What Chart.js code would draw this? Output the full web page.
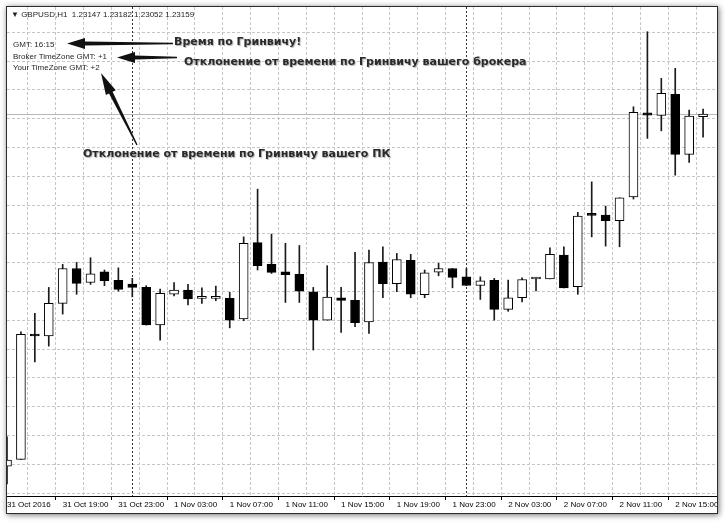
<!DOCTYPE html>
<html>
<head>
<meta charset="utf-8">
<script src="https://cdn.jsdelivr.net/npm/chart.js@4.4.0/dist/chart.umd.min.js"></script>
<style>
  body { margin: 0; background: #fff; width: 725px; height: 524px; position: relative; overflow: hidden; font-family: "Liberation Sans", Arial, sans-serif; }
  #frame { position: absolute; left: 6px; top: 6px; width: 710px; height: 506px; border: 1px solid #2b2b2b; box-shadow: 1px 1px 6px rgba(0, 0, 0, 0.55); background: #fff; }
  #chart { position: absolute; left: 0; top: 0; }
  .info { position: absolute; font-size: 8px; line-height: 10px; color: #1e1e2a; white-space: nowrap; }
  .note { position: absolute; font-family: "DejaVu Sans", sans-serif; font-weight: bold; font-size: 11px; line-height: 14px; color: #2a2a2a; text-shadow: 1px 1px 1px #b0b0b0; white-space: nowrap; }
  #arrows { position: absolute; left: 0; top: 0; }
</style>
</head>
<body>
<div id="frame"><canvas id="chart" width="710" height="506"></canvas></div>

<div class="info" id="header" style="left:11px; top:10px;"></div>
<div class="info" style="left:13px; top:40px;">GMT: 16:15</div>
<div class="info" style="left:13px; top:52px;">Broker TimeZone GMT: +1</div>
<div class="info" style="left:13px; top:63px;">Your TimeZone GMT: +2</div>

<div class="note" style="left:174px; top:35px;">Время по Гринвичу!</div>
<div class="note" style="left:184px; top:55px;">Отклонение от времени по Гринвичу вашего брокера</div>
<div class="note" style="left:83px; top:147px;">Отклонение от времени по Гринвичу вашего ПК</div>

<svg id="arrows" width="725" height="524"></svg>

<script>
// GBPUSD H1 bars, 31 Oct 15:00 - 2 Nov 17:00
var categories = [
  '31 Oct 15:00', '31 Oct 16:00', '31 Oct 17:00', '31 Oct 18:00', '31 Oct 19:00', '31 Oct 20:00',
  '31 Oct 21:00', '31 Oct 22:00', '31 Oct 23:00',
  '1 Nov 00:00', '1 Nov 01:00', '1 Nov 02:00', '1 Nov 03:00', '1 Nov 04:00', '1 Nov 05:00',
  '1 Nov 06:00', '1 Nov 07:00', '1 Nov 08:00', '1 Nov 09:00', '1 Nov 10:00', '1 Nov 11:00',
  '1 Nov 12:00', '1 Nov 13:00', '1 Nov 14:00', '1 Nov 15:00', '1 Nov 16:00', '1 Nov 17:00',
  '1 Nov 18:00', '1 Nov 19:00', '1 Nov 20:00', '1 Nov 21:00', '1 Nov 22:00', '1 Nov 23:00',
  '2 Nov 00:00', '2 Nov 01:00', '2 Nov 02:00', '2 Nov 03:00', '2 Nov 04:00', '2 Nov 05:00',
  '2 Nov 06:00', '2 Nov 07:00', '2 Nov 08:00', '2 Nov 09:00', '2 Nov 10:00', '2 Nov 11:00',
  '2 Nov 12:00', '2 Nov 13:00', '2 Nov 14:00', '2 Nov 15:00', '2 Nov 16:00', '2 Nov 17:00'
];

var opens = [
  1.21522, 1.21553, 1.22135, 1.22127, 1.22279, 1.22441, 1.22376, 1.22426, 1.22386, 1.22369,
  1.22353, 1.22178, 1.22321, 1.22341, 1.22302, 1.22302, 1.22302, 1.22206, 1.22561, 1.22460,
  1.22426, 1.22414, 1.22333, 1.22201, 1.22305, 1.22293, 1.22193, 1.22471, 1.22370, 1.22479,
  1.22319, 1.22424, 1.22441, 1.22402, 1.22362, 1.22386, 1.22251, 1.22305, 1.22392, 1.22392,
  1.22503, 1.22356, 1.22695, 1.22689, 1.22663, 1.22774, 1.23165, 1.23153, 1.23251, 1.22972,
  1.23147
];
var highs = [
  1.21658, 1.22147, 1.22232, 1.22353, 1.22460, 1.22469, 1.22491, 1.22434, 1.22444, 1.22395,
  1.22361, 1.22345, 1.22376, 1.22367, 1.22351, 1.22359, 1.22330, 1.22588, 1.22810, 1.22601,
  1.22558, 1.22548, 1.22353, 1.22454, 1.22353, 1.22516, 1.22527, 1.22542, 1.22511, 1.22507,
  1.22434, 1.22465, 1.22441, 1.22441, 1.22402, 1.22395, 1.22387, 1.22398, 1.22400, 1.22537,
  1.22542, 1.22702, 1.22844, 1.22731, 1.22770, 1.23193, 1.23542, 1.23325, 1.23372, 1.23178,
  1.23182
];
var lows = [
  1.21439, 1.21553, 1.22007, 1.22080, 1.22229, 1.22321, 1.22367, 1.22361, 1.22336, 1.22309,
  1.22178, 1.22108, 1.22314, 1.22271, 1.22279, 1.22291, 1.22165, 1.22198, 1.22434, 1.22418,
  1.22283, 1.22283, 1.22062, 1.22201, 1.22144, 1.22170, 1.22139, 1.22305, 1.22333, 1.22305,
  1.22305, 1.22407, 1.22351, 1.22362, 1.22297, 1.22201, 1.22242, 1.22286, 1.22337, 1.22392,
  1.22351, 1.22321, 1.22588, 1.22545, 1.22542, 1.22764, 1.23046, 1.23081, 1.22875, 1.22934,
  1.23052
];
var closes = [
  1.21550, 1.22135, 1.22127, 1.22279, 1.22441, 1.22372, 1.22416, 1.22384, 1.22344, 1.22353,
  1.22178, 1.22325, 1.22341, 1.22299, 1.22302, 1.22302, 1.22201, 1.22558, 1.22454, 1.22423,
  1.22412, 1.22335, 1.22201, 1.22308, 1.22293, 1.22189, 1.22469, 1.22370, 1.22483, 1.22322,
  1.22421, 1.22441, 1.22400, 1.22362, 1.22384, 1.22251, 1.22305, 1.22390, 1.22392, 1.22507,
  1.22351, 1.22685, 1.22688, 1.22663, 1.22770, 1.23167, 1.23154, 1.23255, 1.22972, 1.23150,
  1.23159
];

// labels under every 4th bar
var tickLabels = [
  '31 Oct 2016', '31 Oct 19:00', '31 Oct 23:00', '1 Nov 03:00', '1 Nov 07:00', '1 Nov 11:00',
  '1 Nov 15:00', '1 Nov 19:00', '1 Nov 23:00', '2 Nov 03:00', '2 Nov 07:00', '2 Nov 11:00',
  '2 Nov 15:00'
];

// price window of the terminal and its grid
var priceMin = 1.21383;
var priceMax = 1.23657;
var gridTop = 1.23539;
var gridStep = 0.0013392;

var last = closes.length - 1;
var header = document.getElementById('header');
header.innerHTML = '&#9660; GBPUSD,H1&nbsp;&nbsp;' + opens[last].toFixed(5) + ' ' + highs[last].toFixed(5) + ' ' +
  lows[last].toFixed(5) + ' ' + closes[last].toFixed(5);

//one empty slot on the right, like the terminal's chart shift
var xLabels = categories.concat(['']);

var bodies = opens.map(function (o, i) { return [o, closes[i]]; });
var wicks = lows.map(function (l, i) { return [l, highs[i]]; });

//Bid line and day separators
var extraLines = {
  id: 'extraLines',
  beforeDatasetsDraw: function (chart) {
    var ctx = chart.ctx;
    var area = chart.chartArea;
    var xs = chart.scales.x;
    var ys = chart.scales.y;
    ctx.save();
    var py = Math.round(ys.getPixelForValue(closes[last])) + 0.5;
    ctx.strokeStyle = '#b8b8b8';
    ctx.lineWidth = 1;
    ctx.beginPath();
    ctx.moveTo(area.left, py);
    ctx.lineTo(area.right, py);
    ctx.stroke();

    ctx.strokeStyle = '#333';
    ctx.setLineDash([2, 2]);
    categories.forEach(function (c, i) {
      if (c.indexOf('00:00') > -1) {
        var px = Math.round(xs.getPixelForValue(i)) + 0.5;
        ctx.beginPath();
        ctx.moveTo(px, area.top);
        ctx.lineTo(px, area.bottom);
        ctx.stroke();
      }
    });
    ctx.restore();
  }
};

new Chart(document.getElementById('chart'), {
  type: 'bar',
  data: {
    labels: xLabels,
    datasets: [{
      label: 'body',
      data: bodies,
      order: 0,
      grouped: false,
      barThickness: 9,
      minBarLength: 2,
      borderWidth: 1,
      borderColor: '#000',
      borderSkipped: false,
      backgroundColor: function (c) {
        var i = c.dataIndex;
        return closes[i] >= opens[i] ? '#fff' : '#000';
      }
    }, {
      label: 'wick',
      data: wicks,
      order: 1,
      grouped: false,
      barThickness: 1,
      borderWidth: 0,
      backgroundColor: '#1a1a1a'
    }]
  },
  options: {
    responsive: false,
    animation: false,
    layout: { padding: 0 },
    plugins: { legend: { display: false }, tooltip: { enabled: false } },
    scales: {
      x: {
        offset: false,
        grid: {
          color: function (c) { return c.index % 2 === 0 ? '#c6c6c6' : 'rgba(0,0,0,0)'; },
          tickColor: function (c) { return c.index % 4 === 0 ? '#000' : 'rgba(0,0,0,0)'; },
          tickLength: 4,
          lineWidth: 1
        },
        border: { display: true, color: '#000', width: 1, dash: [3, 2] },
        ticks: {
          autoSkip: false,
          maxRotation: 0,
          minRotation: 0,
          align: 'start',
          padding: 0,
          color: '#000',
          font: { family: 'Liberation Sans', size: 8 },
          callback: function (value, index) {
            return index % 4 === 0 ? tickLabels[index / 4] : '';
          }
        },
        afterFit: function (scale) {
          scale.height = 17;
          scale.paddingLeft = 0;
          scale.paddingRight = 0;
        }
      },
      y: {
        min: priceMin,
        max: priceMax,
        grid: { color: '#c6c6c6', drawTicks: false, lineWidth: 1 },
        border: { display: false, dash: [3, 2] },
        ticks: { display: false },
        afterBuildTicks: function (scale) {
          var t = [];
          for (var v = gridTop; v > priceMin; v -= gridStep) {
            t.push({ value: v });
          }
          scale.ticks = t;
        },
        afterFit: function (scale) {
          scale.width = 0;
        }
      }
    }
  },
  plugins: [extraLines]
});

//Arrows from the notes to the comment lines
function drawArrow(x1, y1, x2, y2, headLen, headHalf) {
  var dx = x2 - x1, dy = y2 - y1;
  var len = Math.sqrt(dx * dx + dy * dy);
  var ux = dx / len, uy = dy / len;
  var nx = -uy, ny = ux;
  var bx = x2 - ux * headLen, by = y2 - uy * headLen;
  var pts = [
    [x1 + nx * 0.7, y1 + ny * 0.7],
    [bx + nx * 2, by + ny * 2],
    [bx + nx * headHalf, by + ny * headHalf],
    [x2, y2],
    [bx - nx * headHalf, by - ny * headHalf],
    [bx - nx * 2, by - ny * 2],
    [x1 - nx * 0.7, y1 - ny * 0.7]
  ];
  var poly = document.createElementNS('http://www.w3.org/2000/svg', 'polygon');
  poly.setAttribute('points', pts.map(function (p) { return p[0].toFixed(1) + ',' + p[1].toFixed(1); }).join(' '));
  poly.setAttribute('fill', '#111');
  document.getElementById('arrows').appendChild(poly);
}

drawArrow(173, 43.5, 67, 43.5, 18, 5.5);
drawArrow(177, 57.5, 117, 57.5, 18, 5.5);
drawArrow(137, 145, 101, 73, 22, 5.5);
</script>
</body>
</html>
